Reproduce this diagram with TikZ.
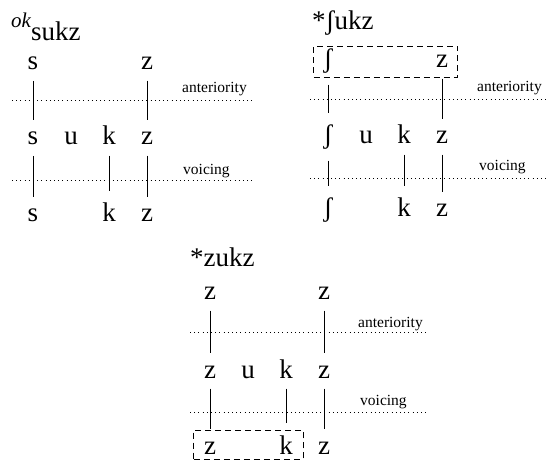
\documentclass[tikz,border=0pt]{standalone}
\usepackage{fontspec}
\setmainfont{Liberation Serif}
\usetikzlibrary{fit}
\tikzset{
    seg/.style={font=\fontsize{27}{27}\selectfont, inner sep=0pt, anchor=base},
    heading/.style={font=\fontsize{27}{27}\selectfont, inner sep=0pt, anchor=base west},
    tier/.style={font=\fontsize{15.5}{15.5}\selectfont, inner sep=0pt, anchor=base west},
    assoc/.style={line width=0.8pt, shorten <=10.5pt, shorten >=12pt},
    tierline/.style={line width=0.8pt, dash pattern=on 0.8pt off 3.4pt},
    spanbox/.style={draw, line width=0.8pt, dash pattern=on 6pt off 4pt}
}

\begin{document}
\begin{tikzpicture}[x=1pt, y=-1pt]
    \useasboundingbox (0,0) rectangle (546,462);

    % Define the columns
    \def\colA{33}  \def\colB{328}  \def\colC{210}
    \def\dx{38}

    % ok sukz
    \node[heading] (aHead) at (11,41) {\raisebox{13pt}{\fontsize{21}{21}\selectfont\itshape ok}sukz};
    \node[seg] (aTs) at (\colA,70) {s};
    \node[seg] (aTz) at (\colA+3*\dx,70) {z};
    \node[seg] (aMs) at (\colA,145) {s};
    \node[seg] (aMu) at (\colA+\dx,145) {u};
    \node[seg] (aMk) at (\colA+2*\dx,145) {k};
    \node[seg] (aMz) at (\colA+3*\dx,145) {z};
    \node[seg] (aBs) at (\colA,222) {s};
    \node[seg] (aBk) at (\colA+2*\dx,222) {k};
    \node[seg] (aBz) at (\colA+3*\dx,222) {z};
    \coordinate (aAntL) at (12,100);  \coordinate (aAntR) at (252,100);
    \coordinate (aVoiL) at (12,180);  \coordinate (aVoiR) at (252,180);
    \draw[tierline] (aAntL) -- (aAntR);
    \draw[tierline] (aVoiL) -- (aVoiR);
    \node[tier] (aAnt) at (182,93) {anteriority};
    \node[tier] (aVoi) at (183,175) {voicing};
    \draw[assoc] (aTs.south) -- (aMs.north);
    \draw[assoc] (aTz.south) -- (aMz.north);
    \draw[assoc] (aMs.south) -- (aBs.north);
    \draw[assoc] (aMk.south) -- (aBk.north);
    \draw[assoc] (aMz.south) -- (aBz.north);

    % *ʃukz
    \node[heading] (bHead) at (312,30) {*ʃukz};
    \node[seg] (bTesh) at (\colB,68) {ʃ};
    \node[seg] (bTz) at (\colB+3*\dx,68) {z};
    \node[seg] (bMesh) at (\colB,144) {ʃ};
    \node[seg] (bMu) at (\colB+\dx,144) {u};
    \node[seg] (bMk) at (\colB+2*\dx,144) {k};
    \node[seg] (bMz) at (\colB+3*\dx,144) {z};
    \node[seg] (bBesh) at (\colB,217) {ʃ};
    \node[seg] (bBk) at (\colB+2*\dx,217) {k};
    \node[seg] (bBz) at (\colB+3*\dx,217) {z};
    \node[spanbox, fit=(bTesh)(bTz), inner xsep=9.5pt, inner ysep=3pt] (bBox) {};
    \coordinate (bAntL) at (310,99);  \coordinate (bAntR) at (546,99);
    \coordinate (bVoiL) at (310,178); \coordinate (bVoiR) at (546,178);
    \draw[tierline] (bAntL) -- (bAntR);
    \draw[tierline] (bVoiL) -- (bVoiR);
    \node[tier] (bAnt) at (477,92) {anteriority};
    \node[tier] (bVoi) at (479,171) {voicing};
    \draw[assoc] (bTesh.south) -- (bMesh.north);
    \draw[assoc] (bTz.south) -- (bMz.north);
    \draw[assoc] (bMesh.south) -- (bBesh.north);
    \draw[assoc] (bMk.south) -- (bBk.north);
    \draw[assoc] (bMz.south) -- (bBz.north);

    % *zukz
    \node[heading] (cHead) at (190,267) {*zukz};
    \node[seg] (cTz) at (\colC,300) {z};
    \node[seg] (cTzz) at (\colC+3*\dx,300) {z};
    \node[seg] (cMz) at (\colC,378) {z};
    \node[seg] (cMu) at (\colC+\dx,378) {u};
    \node[seg] (cMk) at (\colC+2*\dx,378) {k};
    \node[seg] (cMzz) at (\colC+3*\dx,378) {z};
    \node[seg] (cBz) at (\colC,454) {z};
    \node[seg] (cBk) at (\colC+2*\dx,454) {k};
    \node[seg] (cBzz) at (\colC+3*\dx,454) {z};
    \node[spanbox, fit=(cBz)(cBk), inner xsep=10pt, inner ysep=5pt] (cBox) {};
    \coordinate (cAntL) at (190,332); \coordinate (cAntR) at (428,332);
    \coordinate (cVoiL) at (190,412); \coordinate (cVoiR) at (428,412);
    \draw[tierline] (cAntL) -- (cAntR);
    \draw[tierline] (cVoiL) -- (cVoiR);
    \node[tier] (cAnt) at (358,327) {anteriority};
    \node[tier] (cVoi) at (360,405) {voicing};
    \draw[assoc] (cTz.south) -- (cMz.north);
    \draw[assoc] (cTzz.south) -- (cMzz.north);
    \draw[assoc] (cMz.south) -- (cBz.north);
    \draw[assoc] (cMk.south) -- (cBk.north);
    \draw[assoc] (cMzz.south) -- (cBzz.north);
\end{tikzpicture}
\end{document}
